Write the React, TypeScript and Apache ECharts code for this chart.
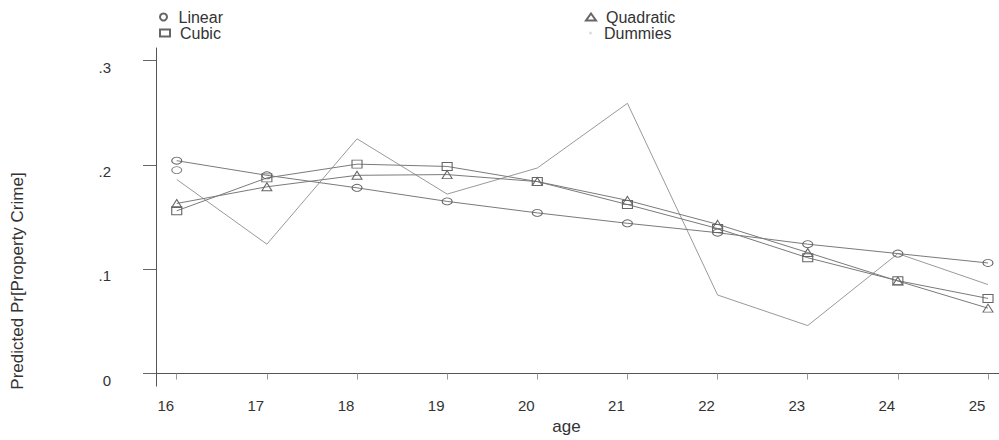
import React, { useEffect, useRef } from "react";
import * as echarts from "echarts";

const ages = [16, 17, 18, 19, 20, 21, 22, 23, 24, 25];
const linear = [0.204, 0.19, 0.178, 0.165, 0.154, 0.144, 0.135, 0.124, 0.115, 0.106];
const quadratic = [0.163, 0.179, 0.19, 0.1907, 0.184, 0.166, 0.143, 0.116, 0.0887, 0.0627];
const cubic = [0.156, 0.1875, 0.2007, 0.1985, 0.184, 0.162, 0.139, 0.111, 0.089, 0.072];
const dummies = [0.186, 0.124, 0.225, 0.172, 0.197, 0.259, 0.0753, 0.046, 0.115, 0.0853];
const linearExtra = [[16, 0.195]];
const xTicks = [16, 17, 18, 19, 20, 21, 22, 23, 24, 25];
const yTicks = [0, 0.1, 0.2, 0.3];
const yTickLabels = ["0", ".1", ".2", ".3"];

const pairs = (ys: number[]) => ages.map((a, i) => [a, ys[i]]);

export default function App() {
  const ref = useRef<HTMLDivElement>(null);
  useEffect(() => {
    if (!ref.current) return;
    const chart = echarts.init(ref.current, undefined, { renderer: "svg" });
    const font = "'Liberation Sans', Arial, sans-serif";
    const hollow = { color: "rgba(0,0,0,0)", borderColor: "#666", borderWidth: 1 };
    const lineSt = { color: "#7a7a7a", width: 1 };
    const legendBase = {
      orient: "vertical" as const,
      padding: 0,
      itemWidth: 10,
      itemHeight: 7,
      textStyle: { fontFamily: font, fontSize: 16, color: "#333", lineHeight: 14, padding: [0, 0, 0, 5] },
      selectedMode: false,
    };
    chart.setOption({
      animation: false,
      backgroundColor: "#fff",
      grid: { left: 156, right: 0, top: 48, bottom: 48, containLabel: false },
      legend: [
        { ...legendBase, left: 159, top: 9, data: [{ name: "Linear", icon: "circle" }] },
        { ...legendBase, left: 159, top: 25, data: [{ name: "Cubic", icon: "rect" }] },
        { ...legendBase, left: 585, top: 9, data: [{ name: "Quadratic", icon: "triangle" }] },
        {
          ...legendBase,
          left: 589,
          top: 25,
          itemWidth: 3,
          itemHeight: 3,
          textStyle: { ...legendBase.textStyle, padding: [0, 0, 0, 7] },
          data: [{ name: "Dummies", icon: "circle", itemStyle: { color: "#ddd", borderWidth: 0 } }],
        },
      ],
      xAxis: {
        type: "value",
        min: 15.77,
        max: 25.122,
        name: "age",
        nameLocation: "middle",
        nameGap: 20,
        nameTextStyle: { fontFamily: font, fontSize: 17, color: "#333", padding: [0, 22, 0, 0] },
        axisLine: { show: true, lineStyle: { color: "#555", width: 1 } },
        axisTick: { show: true, length: 6, customValues: xTicks, lineStyle: { color: "#999" } },
        axisLabel: {
          customValues: xTicks,
          fontFamily: font,
          fontSize: 15,
          color: "#333",
          margin: 12,
          padding: [0, 22, 0, 0],
        },
        splitLine: { show: false },
      },
      yAxis: {
        type: "value",
        min: -0.012,
        max: 0.312,
        axisLine: { show: true, lineStyle: { color: "#555", width: 1 } },
        axisTick: { show: true, length: 13, customValues: yTicks, lineStyle: { color: "#666" } },
        axisLabel: {
          customValues: yTicks,
          fontFamily: font,
          fontSize: 15,
          color: "#333",
          margin: 45,
          verticalAlign: "top",
          lineHeight: 13,
          formatter: (v: number) => {
            let best = 0;
            yTicks.forEach((t, i) => {
              if (Math.abs(t - v) < Math.abs(yTicks[best] - v)) best = i;
            });
            return yTickLabels[best];
          },
        },
        splitLine: { show: false },
      },
      graphic: [
        {
          type: "text",
          x: 17,
          y: 281,
          rotation: Math.PI / 2,
          style: {
            text: "Predicted Pr[Property Crime]",
            fontFamily: font,
            fontSize: 17,
            fill: "#333",
            align: "center",
            verticalAlign: "middle",
          },
        },
      ],
      series: [
        {
          name: "Linear",
          type: "line",
          data: pairs(linear),
          symbol: "circle",
          symbolSize: [10, 7],
          itemStyle: hollow,
          lineStyle: lineSt,
          z: 3,
        },
        {
          name: "Linear",
          type: "scatter",
          data: linearExtra,
          symbol: "circle",
          symbolSize: [10, 7],
          itemStyle: hollow,
          z: 3,
        },
        {
          name: "Quadratic",
          type: "line",
          data: pairs(quadratic),
          symbol: "triangle",
          symbolSize: [10, 8],
          itemStyle: hollow,
          lineStyle: lineSt,
          z: 3,
        },
        {
          name: "Cubic",
          type: "line",
          data: pairs(cubic),
          symbol: "rect",
          symbolSize: [10, 8],
          itemStyle: hollow,
          lineStyle: lineSt,
          z: 3,
        },
        {
          name: "Dummies",
          type: "line",
          data: pairs(dummies),
          showSymbol: false,
          symbol: "none",
          itemStyle: { color: "#ddd" },
          lineStyle: { color: "#999", width: 1 },
          z: 2,
        },
      ],
    });
    return () => chart.dispose();
  }, []);
  return <div ref={ref} style={{ width: 999, height: 440, position: "absolute", left: 0, top: 0 }} />;
}
